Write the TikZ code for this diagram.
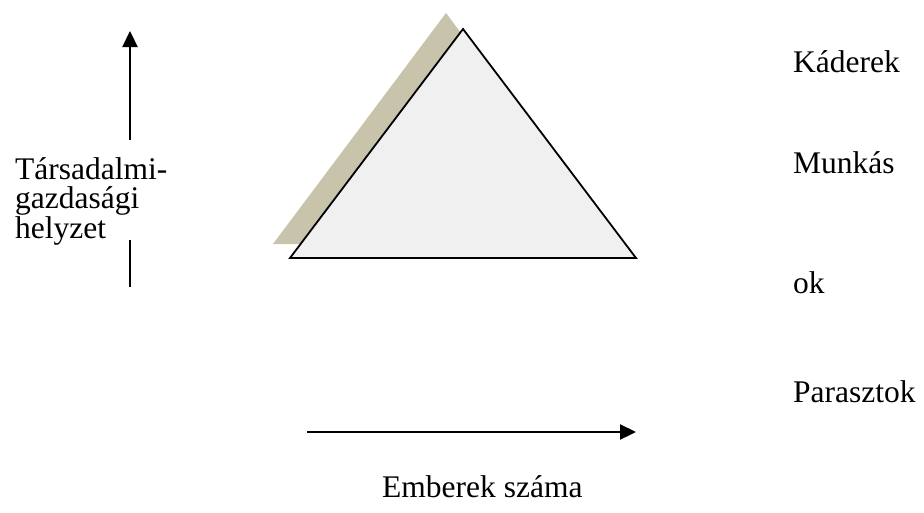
\documentclass[tikz,border=0pt]{standalone}
\usepackage{fontspec}
\setmainfont{Liberation Serif}
\usetikzlibrary{arrows.meta}
\definecolor{shadowtan}{RGB}{200,195,171}
\definecolor{pyrfill}{RGB}{240,240,240}
\tikzset{
  lbl/.style={anchor=base west,inner sep=0pt,font=\fontsize{31.5}{28.5}\selectfont},
  axis/.style={line width=2.3pt,-{Triangle[length=16pt,width=15pt]}}
}
\begin{document}
\begin{tikzpicture}[x=1pt,y=-1pt]
\useasboundingbox (0,0) rectangle (924,512);
% pyramid with its shadow
\fill[shadowtan] (446,13) -- (273,244) -- (619,244) -- cycle;
\draw[fill=pyrfill,line width=1.8pt,line join=miter] (463,29) -- (290,258) -- (636,258) -- cycle;
% vertical axis
\coordinate (vlow) at (130,140);
\coordinate (vtop) at (130,31);
\coordinate (vseg1) at (130,240);
\coordinate (vseg2) at (130,287);
\draw[axis] (vlow) -- (vtop);
\draw[line width=2.3pt] (vseg1) -- (vseg2);
\node[lbl,align=left] (helyzet) at (15,238) {Társadalmi-\\gazdasági\\helyzet};
% horizontal axis
\coordinate (hstart) at (307,432);
\coordinate (hend) at (636,432);
\draw[axis] (hstart) -- (hend);
\node[lbl] (emberek) at (382,497) {Emberek száma};
% classes
\node[lbl] (kaderek) at (793,72) {Káderek};
\node[lbl] (munkas) at (793,173) {Munkás};
\node[lbl] (ok) at (793,293) {ok};
\node[lbl] (parasztok) at (793,402) {Parasztok};
\end{tikzpicture}
\end{document}
